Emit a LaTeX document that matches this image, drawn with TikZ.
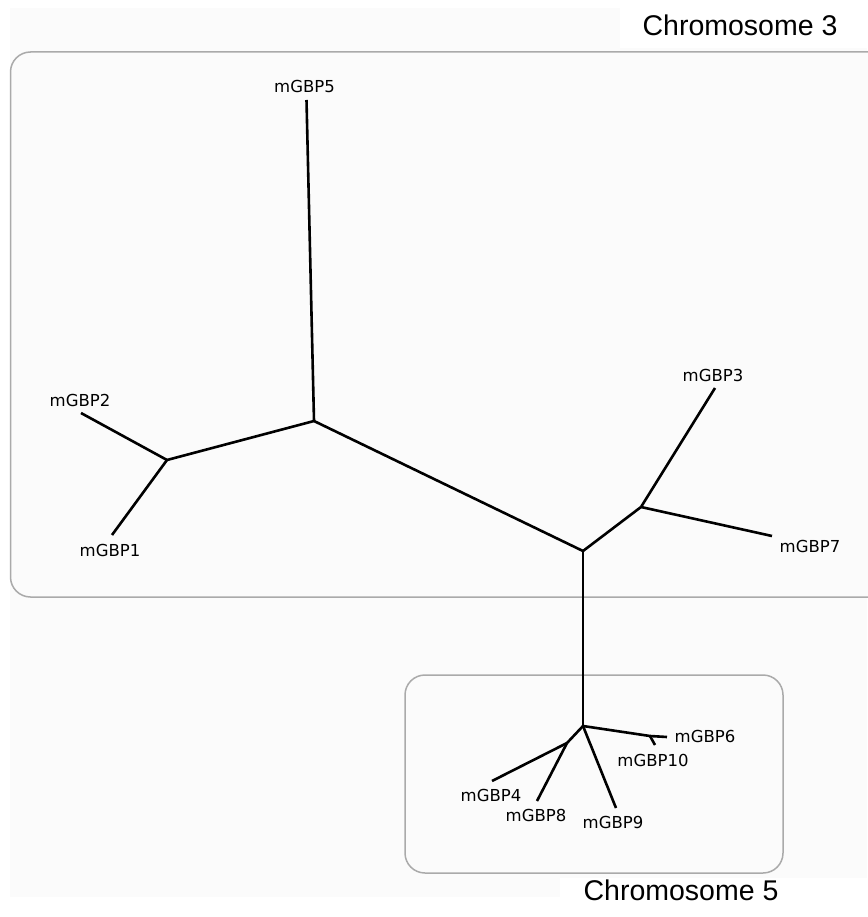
\documentclass[tikz,border=0pt]{standalone}
\usepackage{fontspec}
\setmainfont{Liberation Sans}
\newfontfamily\labfont{DejaVu Sans}
\definecolor{bgpale}{HTML}{FBFBFB}
\definecolor{boxedge}{HTML}{AAAAAA}
\begin{document}
\begin{tikzpicture}[x=1pt,y=-1pt,
  branch/.style={line width=2.6pt,black,line join=round},
  chrombox/.style={draw=boxedge,line width=1.5pt,fill=bgpale,rounded corners=20pt},
  leaflab/.style={font=\labfont\fontsize{16.5}{19}\selectfont,anchor=base,inner sep=0pt},
  chromlab/.style={font=\fontsize{28.5}{32}\selectfont,anchor=base,inner sep=0pt}]
\useasboundingbox (0,0) rectangle (867,917);
% page background
\fill[white] (0,0) rectangle (867,917);
\fill[bgpale] (10,8) rectangle (867,897);
\fill[white] (620,0) rectangle (867,48);
\fill[white] (560,878) rectangle (867,917);
% chromosome boxes
\draw[chrombox] (10.5,52) rectangle (890,597);
\draw[chrombox] (405,675) rectangle (783,873);
% tree points
\coordinate (L5) at (306.5,100);
\coordinate (A) at (314,421);
\coordinate (B) at (167,460);
\coordinate (L2) at (81,413);
\coordinate (L1) at (112,535);
\coordinate (C) at (583,551);
\coordinate (D) at (641,507);
\coordinate (L3) at (715,388);
\coordinate (L7) at (772,536);
\coordinate (E) at (583,726);
\coordinate (F) at (567,743);
\coordinate (L4) at (492,781);
\coordinate (L8) at (537,801);
\coordinate (L9) at (616,808);
\coordinate (G) at (650,736);
\coordinate (L6) at (667,737);
\coordinate (L10) at (655,745);
% branches
\draw[branch] (L5) -- (A);
\draw[branch] (A) -- (B);
\draw[branch] (B) -- (L2);
\draw[branch] (B) -- (L1);
\draw[branch] (A) -- (C);
\draw[branch] (C) -- (D);
\draw[branch] (D) -- (L3);
\draw[branch] (D) -- (L7);
\draw[branch] (C) -- (E);
\draw[branch] (E) -- (F);
\draw[branch] (F) -- (L4);
\draw[branch] (F) -- (L8);
\draw[branch] (E) -- (L9);
\draw[branch] (E) -- (G);
\draw[branch] (G) -- (L6);
\draw[branch] (G) -- (L10);
% leaf labels
\node[leaflab] (t5) at (304.5,93) {mGBP5};
\node[leaflab] (t2) at (80,406) {mGBP2};
\node[leaflab] (t1) at (110,556) {mGBP1};
\node[leaflab] (t3) at (713,381.5) {mGBP3};
\node[leaflab] (t7) at (810,552.5) {mGBP7};
\node[leaflab] (t6) at (705,742.5) {mGBP6};
\node[leaflab] (t10) at (653,766.5) {mGBP10};
\node[leaflab] (t4) at (491,801.5) {mGBP4};
\node[leaflab] (t8) at (536,821.5) {mGBP8};
\node[leaflab] (t9) at (613,828) {mGBP9};
% chromosome labels
\node[chromlab] (c3) at (740,36) {Chromosome 3};
\node[chromlab] (c5) at (681,900) {Chromosome 5};
\end{tikzpicture}
\end{document}
